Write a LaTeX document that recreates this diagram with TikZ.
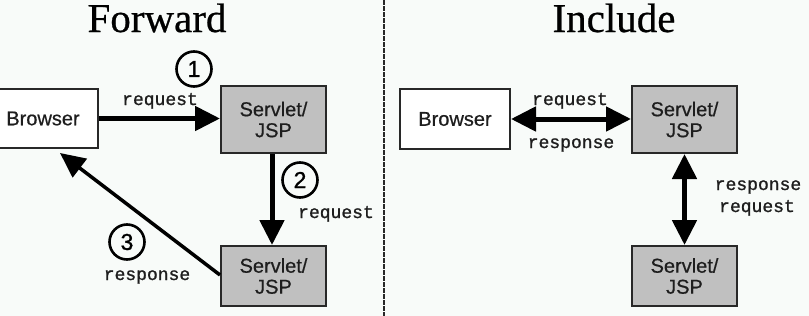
\documentclass[tikz,border=0pt]{standalone}
\usepackage{fontspec}
\setmainfont{Liberation Sans}[FakeBold=0.6]
\newfontfamily\boldsans{Liberation Sans}[FakeBold=1.2]
\newfontfamily\titlefont{Liberation Serif}[FakeBold=0.6]
\newfontfamily\monofont{Liberation Mono}[FakeBold=1.2]
\usetikzlibrary{arrows.meta}
\definecolor{bg}{RGB}{248,251,249}
\definecolor{boxgray}{RGB}{192,192,192}
\definecolor{edge}{RGB}{40,40,40}
\definecolor{txt}{RGB}{30,30,30}
\begin{document}
\begin{tikzpicture}[x=1pt,y=-1pt,
  title/.style={font=\titlefont\fontsize{41}{41}\selectfont, anchor=base, inner sep=0pt},
  boxw/.style={draw=edge, line width=2pt, fill=white, inner sep=0pt, text=txt, font=\fontsize{20}{21}\selectfont, align=center},
  boxg/.style={boxw, fill=boxgray},
  lbl/.style={font=\monofont\fontsize{18}{18}\selectfont, anchor=base, inner sep=0pt, text=txt},
  num/.style={draw, circle, line width=2.6pt, minimum size=35pt, inner sep=0pt, font=\boldsans\fontsize{23}{23}\selectfont},
  arr/.style={line width=5pt, -{Triangle[length=25pt,width=24pt]}},
  darr/.style={line width=5pt, {Triangle[length=25pt,width=24pt]}-{Triangle[length=25pt,width=24pt]}},
]
\fill[bg] (0,0) rectangle (809,316);
\useasboundingbox (0,0) rectangle (809,316);

% dashed divider
\coordinate (dtop) at (384,0);
\coordinate (dbot) at (384,316);
\draw[edge, line width=2pt, dash pattern=on 4.5pt off 1.5pt] (dtop) -- (dbot);

% titles
\node[title] (tf) at (157,32) {Forward};
\node[title] (ti) at (614,32) {Include};

% Forward side
\node[boxw, minimum width=110pt, minimum height=59pt] (b1) at (43,118.5) {Browser};
\node[boxg, minimum width=105pt, minimum height=67pt] (s1) at (273.5,119.5) {Servlet/\\JSP};
\node[boxg, minimum width=105pt, minimum height=60pt] (s2) at (273.5,276) {Servlet/\\JSP};
\coordinate (t3) at (60,153);

\draw[arr] (b1.east) -- (s1.west |- b1.east);
\draw[arr] ([xshift=-1.5pt]s1.south) -- ([xshift=-1.5pt]s2.north);
\draw[line width=3.5pt, -{Triangle[length=25pt,width=23pt]}] ([yshift=1pt]s2.west) -- (t3);

\node[lbl] (l1) at (160,105) {request};
\node[lbl] (l2) at (336,218) {request};
\node[lbl] (l3) at (147,280) {response};

\node[num] (c1) at (194,69) {1};
\node[num] (c2) at (300,180) {2};
\node[num] (c3) at (127,242) {3};

% Include side
\node[boxw, minimum width=110pt, minimum height=60pt] (b2) at (455,119) {Browser};
\node[boxg, minimum width=105pt, minimum height=67pt] (s3) at (684.5,119.5) {Servlet/\\JSP};
\node[boxg, minimum width=105pt, minimum height=60pt] (s4) at (684.5,276) {Servlet/\\JSP};

\draw[darr] (b2.east) -- (s3.west |- b2.east);
\draw[darr] (s3.south) -- (s4.north);

\node[lbl] (l4) at (570,105) {request};
\node[lbl] (l5) at (571,148) {response};
\node[lbl] (l6) at (758,190) {response};
\node[lbl] (l7) at (757,212) {request};
\end{tikzpicture}
\end{document}
